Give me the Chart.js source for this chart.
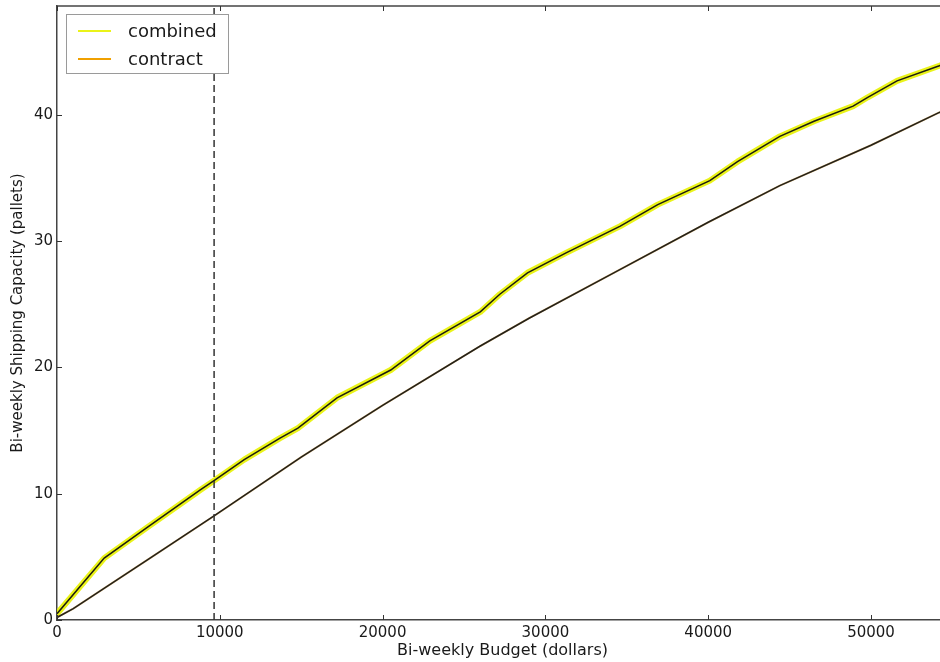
<!DOCTYPE html>
<html>
<head>
<meta charset="utf-8">
<script src="https://cdn.jsdelivr.net/npm/chart.js@4/dist/chart.umd.min.js"></script>
<style>
  html, body { margin: 0; padding: 0; background: #fff; overflow: hidden; }
  #wrap { width: 948px; height: 662px; }
</style>
</head>
<body>
<div id="wrap"><canvas id="c" width="948" height="662"></canvas></div>
<script>
// ---- data ----
const combinedX = [0, 2900, 5500, 8800, 9600, 11500, 13700, 14800, 17200, 20500, 22900, 26000, 27200, 28900, 31300, 34600, 36900, 40100, 41800, 44400, 46500, 48900, 49800, 51600, 54200, 54800];
const combinedY = [0.5, 4.9, 7.3, 10.3, 11.0, 12.7, 14.4, 15.2, 17.6, 19.8, 22.1, 24.4, 25.8, 27.5, 29.1, 31.2, 32.9, 34.8, 36.3, 38.3, 39.5, 40.7, 41.4, 42.7, 43.9, 44.2];
const contractX = [0, 1000, 5600, 9600, 15000, 20000, 26000, 29000, 34200, 40000, 44400, 50000, 54200, 54800];
const contractY = [0.2, 0.9, 4.8, 8.2, 12.9, 17.0, 21.7, 23.9, 27.5, 31.5, 34.4, 37.6, 40.2, 40.5];
const budgetMarker = 9650;
const xTicks = [0, 10000, 20000, 30000, 40000, 50000];
const yTicks = [0, 10, 20, 30, 40];
const seriesNames = ['combined', 'contract'];
const xTitle = 'Bi-weekly Budget (dollars)';
const yTitle = 'Bi-weekly Shipping Capacity (pallets)';
const X_MAX = 54730;
const Y_MAX = 48.63;

const pts = (xs, ys) => xs.map((x, i) => ({x: x, y: ys[i]}));
const FONT = 'DejaVu Sans, Verdana, sans-serif';
const YELLOW = 'rgba(232,242,0,0.9)';
const ORANGE = '#f0a000';

const legendPlugin = {
  id: 'mplDecor',
  afterDraw(chart) {
    const ctx = chart.ctx;
    const xs = chart.scales.x, ys = chart.scales.y;
    const a = chart.chartArea;
    ctx.save();
    // top frame
    ctx.strokeStyle = '#444';
    ctx.lineWidth = 1.5;
    ctx.beginPath();
    ctx.moveTo(a.left, a.top);
    ctx.lineTo(a.right, a.top);
    ctx.stroke();
    // inward ticks
    ctx.lineWidth = 1;
    ctx.strokeStyle = '#333';
    xTicks.forEach(v => {
      const px = Math.round(xs.getPixelForValue(v)) + 0.5;
      ctx.beginPath();
      ctx.moveTo(px, a.bottom); ctx.lineTo(px, a.bottom - 5);
      ctx.moveTo(px, a.top); ctx.lineTo(px, a.top + 5);
      ctx.stroke();
    });
    yTicks.forEach(v => {
      const py = Math.round(ys.getPixelForValue(v)) + 0.5;
      ctx.beginPath();
      ctx.moveTo(a.left, py); ctx.lineTo(a.left + 5, py);
      ctx.stroke();
    });
    // legend
    const bx = 66, by = 14, bw = 162, bh = 59;
    ctx.fillStyle = '#fff';
    ctx.fillRect(bx, by, bw, bh);
    ctx.strokeStyle = '#9a9a9a';
    ctx.lineWidth = 1;
    ctx.strokeRect(bx + 0.5, by + 0.5, bw, bh);
    const colors = [YELLOW, ORANGE];
    const rows = [31, 59];
    ctx.font = '18px ' + FONT;
    ctx.textBaseline = 'middle';
    ctx.textAlign = 'left';
    seriesNames.forEach((n, i) => {
      ctx.strokeStyle = colors[i];
      ctx.lineWidth = 2;
      ctx.beginPath();
      ctx.moveTo(78, rows[i]); ctx.lineTo(111, rows[i]);
      ctx.stroke();
      ctx.fillStyle = '#1a1a1a';
      ctx.fillText(n, 128, rows[i] + 1);
    });
    ctx.restore();
  }
};

new Chart(document.getElementById('c'), {
  type: 'scatter',
  data: {
    datasets: [
      { label: seriesNames[0] + ' glow', data: pts(combinedX, combinedY), showLine: true, borderColor: YELLOW, borderWidth: 6, pointRadius: 0, order: 5, tension: 0, borderCapStyle: 'round', borderJoinStyle: 'round' },
      { label: seriesNames[0], data: pts(combinedX, combinedY), showLine: true, borderColor: '#1c1c10', borderWidth: 1.5, pointRadius: 0, order: 2, tension: 0 },
      { label: seriesNames[1] + ' glow', data: pts(contractX, contractY), showLine: true, borderColor: 'rgba(200,140,40,0.6)', borderWidth: 2, pointRadius: 0, order: 4, tension: 0 },
      { label: seriesNames[1], data: pts(contractX, contractY), showLine: true, borderColor: '#22201a', borderWidth: 1.5, pointRadius: 0, order: 3, tension: 0 },
      { label: 'marker', data: [{x: budgetMarker, y: 0}, {x: budgetMarker, y: Y_MAX}], showLine: true, borderColor: '#333', borderWidth: 1.5, borderDash: [7, 4], pointRadius: 0, order: 1 }
    ]
  },
  options: {
    responsive: false,
    animation: false,
    layout: { padding: { top: 6, right: 0, left: 0, bottom: 0 } },
    plugins: { legend: { display: false }, tooltip: { enabled: false } },
    scales: {
      x: {
        type: 'linear', min: 0, max: X_MAX,
        afterBuildTicks: s => { s.ticks = xTicks.map(v => ({value: v})); },
        afterFit: s => { s.height = 42; s.paddingLeft = 0; s.paddingRight = 0; },
        grid: { display: true, drawOnChartArea: false, drawTicks: false },
        border: { display: true, color: '#444', width: 1.5 },
        ticks: { padding: 4, color: '#1a1a1a', font: { family: FONT, size: 15 }, maxRotation: 0, autoSkip: false, callback: v => String(v) },
        title: { display: true, text: xTitle, color: '#1a1a1a', font: { family: FONT, size: 16 }, padding: { top: 0, bottom: 2 } }
      },
      y: {
        type: 'linear', min: 0, max: Y_MAX,
        afterBuildTicks: s => { s.ticks = yTicks.map(v => ({value: v})); },
        afterFit: s => { s.width = 57; s.paddingTop = 0; s.paddingBottom = 0; },
        grid: { display: true, drawOnChartArea: false, drawTicks: false },
        border: { display: true, color: '#444', width: 1.5 },
        ticks: { padding: 4, color: '#1a1a1a', font: { family: FONT, size: 15 }, callback: v => String(v) },
        title: { display: true, text: yTitle, color: '#1a1a1a', font: { family: FONT, size: 15 }, padding: { top: 9, bottom: 0 } }
      }
    }
  },
  plugins: [legendPlugin]
});
</script>
</body>
</html>
